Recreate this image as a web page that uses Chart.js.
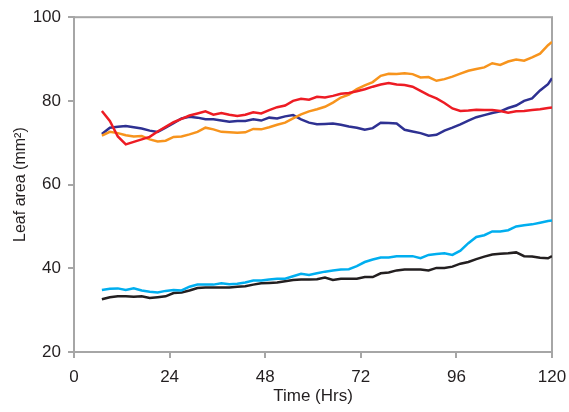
<!DOCTYPE html>
<html>
<head>
<meta charset="utf-8">
<title>Leaf area over time</title>
<script src="https://cdn.jsdelivr.net/npm/chart.js@4.4.1/dist/chart.umd.min.js"></script>
<style>
  html, body { margin: 0; padding: 0; background: #fff; }
  #wrap { width: 569px; height: 412px; }
</style>
</head>
<body>
<div id="wrap"><canvas id="leafChart"></canvas></div>
<script>
// time in hours (readings every 2 h)
const hours = [7, 9, 11, 13, 15, 17, 19, 21, 23, 25, 27, 29, 31, 33, 35, 37, 39, 41, 43, 45,
  47, 49, 51, 53, 55, 57, 59, 61, 63, 65, 67, 69, 71, 73, 75, 77, 79, 81, 83, 85,
  87, 89, 91, 93, 95, 97, 99, 101, 103, 105, 107, 109, 111, 113, 115, 117, 119, 120];

// leaf area (mm2) per plant
const redLeaf = [77.6, 75.2, 71.5, 69.6, 70.2, 70.8, 71.4, 72.7, 73.8, 74.9, 75.7, 76.5, 77.0, 77.5, 76.7, 77.1, 76.7, 76.4, 76.7, 77.3,
  77.0, 77.8, 78.5, 78.9, 80.0, 80.5, 80.3, 81.0, 80.8, 81.2, 81.7, 81.9, 82.3, 82.8, 83.4, 83.9, 84.3, 83.9, 83.8, 83.4,
  82.4, 81.4, 80.6, 79.5, 78.2, 77.6, 77.7, 77.9, 77.8, 77.8, 77.6, 77.2, 77.5, 77.6, 77.8, 78.0, 78.3, 78.4];
const orangeLeaf = [71.7, 72.6, 72.3, 71.8, 71.5, 71.6, 70.8, 70.3, 70.5, 71.4, 71.5, 72.0, 72.6, 73.6, 73.2, 72.6, 72.5, 72.4, 72.5, 73.3,
  73.2, 73.7, 74.3, 74.8, 75.8, 76.8, 77.5, 78.0, 78.6, 79.6, 80.8, 81.5, 82.8, 83.7, 84.5, 86.0, 86.5, 86.4, 86.6, 86.4,
  85.6, 85.7, 84.8, 85.2, 85.8, 86.5, 87.2, 87.6, 88.0, 89.0, 88.6, 89.4, 89.9, 89.6, 90.4, 91.3, 93.3, 94.1];
const navyLeaf = [72.1, 73.6, 73.8, 74.0, 73.7, 73.4, 72.9, 72.6, 73.6, 74.7, 75.8, 76.2, 76.0, 75.6, 75.6, 75.3, 75.0, 75.2, 75.2, 75.6,
  75.3, 76.0, 75.8, 76.3, 76.6, 75.6, 74.8, 74.4, 74.5, 74.6, 74.3, 73.9, 73.6, 73.1, 73.5, 74.8, 74.7, 74.6, 73.1, 72.7,
  72.3, 71.7, 71.9, 72.9, 73.6, 74.4, 75.3, 76.1, 76.6, 77.1, 77.5, 78.3, 78.9, 80.0, 80.6, 82.5, 84.0, 85.4];
const cyanLeaf = [34.8, 35.1, 35.2, 34.8, 35.2, 34.7, 34.4, 34.2, 34.6, 34.8, 34.7, 35.6, 36.1, 36.1, 36.1, 36.4, 36.2, 36.3, 36.6, 37.1,
  37.1, 37.3, 37.5, 37.5, 38.1, 38.7, 38.4, 38.8, 39.2, 39.5, 39.7, 39.8, 40.5, 41.5, 42.1, 42.6, 42.6, 42.9, 42.9, 42.9,
  42.4, 43.2, 43.4, 43.6, 43.2, 44.2, 46.0, 47.5, 47.9, 48.8, 48.8, 49.1, 50.0, 50.3, 50.5, 50.9, 51.3, 51.4];
const blackLeaf = [32.6, 33.1, 33.3, 33.3, 33.2, 33.3, 32.9, 33.1, 33.3, 34.1, 34.2, 34.7, 35.3, 35.4, 35.4, 35.4, 35.4, 35.6, 35.7, 36.1,
  36.4, 36.5, 36.6, 36.9, 37.2, 37.3, 37.3, 37.4, 37.8, 37.2, 37.5, 37.5, 37.5, 37.9, 37.9, 38.8, 39.0, 39.5, 39.7, 39.7,
  39.7, 39.5, 40.1, 40.1, 40.4, 41.1, 41.5, 42.2, 42.8, 43.3, 43.5, 43.6, 43.8, 42.9, 42.8, 42.5, 42.4, 42.9];

const xTicks = [0, 24, 48, 72, 96, 120];
const yTicks = [20, 40, 60, 80, 100];

const axisGrey = "#a6a6a6";
const textColor = "#231f20";

// pair each value with its hour
function toPoints(values) {
  return hours.map((h, i) => ({ x: h, y: values[i] }));
}

function lineSet(label, values, color) {
  return {
    label: label,
    data: toPoints(values),
    borderColor: color,
    backgroundColor: color,
    borderWidth: 2.5,
    pointRadius: 0,
    tension: 0,
  };
}

// grey box round the plot (top and right sides)
const frame = {
  id: "frame",
  beforeDatasetsDraw(chart) {
    const { ctx, chartArea: a } = chart;
    ctx.save();
    ctx.strokeStyle = axisGrey;
    ctx.lineWidth = 2;
    ctx.strokeRect(a.left, a.top, a.right - a.left, a.bottom - a.top);
    ctx.restore();
  },
};

Chart.defaults.font.family = "'Liberation Sans', Arial, sans-serif";
Chart.defaults.color = textColor;

var ctx = document.getElementById("leafChart").getContext("2d");
var leafChart = new Chart(ctx, {
  type: "line",
  data: {
    datasets: [
      lineSet("Plant 1", redLeaf, "#ed1c24"),
      lineSet("Plant 2", orangeLeaf, "#f7941d"),
      lineSet("Plant 3", navyLeaf, "#2e3192"),
      lineSet("Plant 4", cyanLeaf, "#00aeef"),
      lineSet("Plant 5", blackLeaf, "#231f20"),
    ],
  },
  options: {
    responsive: true,
    maintainAspectRatio: false,
    animation: false,
    layout: { padding: { top: 16, right: 17, left: 0, bottom: 0 } },
    plugins: {
      legend: { display: false },
      tooltip: { enabled: false },
    },
    scales: {
      x: {
        type: "linear",
        min: 0,
        max: 120,
        afterBuildTicks: (scale) => { scale.ticks = xTicks.map((v) => ({ value: v })); },
        afterFit: (scale) => {
          scale.height = 60;
          scale.paddingLeft = 0;
          scale.paddingRight = 0;
        },
        ticks: { font: { size: 17 }, padding: 9, color: textColor },
        grid: { drawOnChartArea: false, drawTicks: true, tickLength: 6, color: axisGrey, lineWidth: 2 },
        border: { display: true, color: axisGrey, width: 2 },
        title: {
          display: true,
          text: "Time (Hrs)",
          font: { size: 17 },
          padding: { top: 0, bottom: 5 },
          color: textColor,
        },
      },
      y: {
        min: 20,
        max: 100,
        afterBuildTicks: (scale) => { scale.ticks = yTicks.map((v) => ({ value: v })); },
        afterFit: (scale) => { scale.width = 74; },
        ticks: { font: { size: 17 }, padding: 7, color: textColor },
        grid: { drawOnChartArea: false, drawTicks: true, tickLength: 6, color: axisGrey, lineWidth: 2 },
        border: { display: true, color: axisGrey, width: 2 },
        title: {
          display: true,
          text: "Leaf area (mm²)",
          font: { size: 16 },
          padding: { top: 11, bottom: 0 },
          color: textColor,
        },
      },
    },
  },
  plugins: [frame],
});
</script>
</body>
</html>
